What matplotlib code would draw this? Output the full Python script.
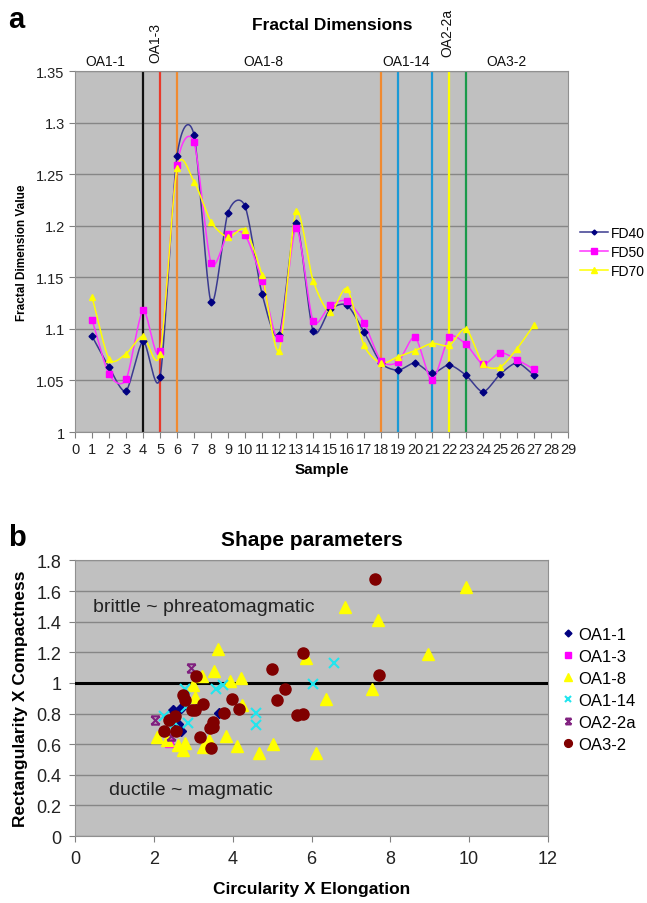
import numpy as np
import matplotlib.pyplot as plt
from matplotlib.path import Path
from matplotlib.lines import Line2D

plt.rcParams['font.family'] = ['Liberation Sans', 'DejaVu Sans']

# ==== panel a data ====
samples = list(range(1, 28))
fd40 = [1.093, 1.063, 1.040, 1.088, 1.053, 1.268, 1.288, 1.126, 1.213, 1.219,
        1.134, 1.094, 1.203, 1.098, 1.119, 1.123, 1.097, 1.067, 1.060, 1.067,
        1.057, 1.065, 1.055, 1.039, 1.056, 1.067, 1.055]
fd50 = [1.109, 1.056, 1.051, 1.118, 1.079, 1.259, 1.281, 1.164, 1.192, 1.191,
        1.147, 1.091, 1.198, 1.108, 1.123, 1.127, 1.106, 1.069, 1.068, 1.092,
        1.050, 1.092, 1.085, 1.066, 1.077, 1.070, 1.061]
fd70 = [1.131, 1.071, 1.076, 1.093, 1.076, 1.256, 1.243, 1.204, 1.189, 1.196,
        1.152, 1.079, 1.214, 1.147, 1.116, 1.139, 1.084, 1.067, 1.073, 1.079,
        1.086, 1.084, 1.100, 1.066, 1.063, 1.081, 1.104]

split_pos = [4, 5, 6, 18, 19, 21, 22, 23]
split_colors = ['#111111', '#e8392a', '#f08a30', '#f08a30', '#1a9ad6', '#1a9ad6', '#ffff00', '#1a9a4a']

group_names = ['OA1-1', 'OA1-3', 'OA1-8', 'OA1-14', 'OA2-2a', 'OA3-2']

# ==== panel b data ====
oa1_1_x = [2.49, 2.70, 3.08, 3.66, 2.62, 2.70]
oa1_1_y = [0.823, 0.834, 0.827, 0.806, 0.732, 0.688]
oa1_3_x = [2.38]
oa1_3_y = [0.605]
oa1_8_x = [6.84, 7.68, 9.93, 8.96, 3.63, 3.52, 3.22, 4.22, 3.93, 5.86, 7.54, 6.37, 2.99, 3.04,
           4.23, 2.07, 2.33, 2.60, 2.74, 2.80, 3.25, 3.41, 3.82, 4.11, 4.67, 5.02, 6.12]
oa1_8_y = [1.495, 1.41, 1.628, 1.186, 1.22, 1.078, 1.042, 1.034, 1.012, 1.162, 0.96, 0.898, 0.984, 0.91,
           0.854, 0.648, 0.625, 0.594, 0.564, 0.608, 0.58, 0.626, 0.653, 0.588, 0.545, 0.599, 0.545]
oa1_14_x = [6.58, 6.03, 4.60, 4.60, 3.58, 3.76, 2.78, 2.87, 2.26, 2.53, 2.82]
oa1_14_y = [1.132, 0.995, 0.806, 0.725, 0.962, 0.985, 0.958, 0.74, 0.785, 0.74, 0.845]
oa2_2a_x = [2.93, 2.02, 2.43]
oa2_2a_y = [1.095, 0.76, 0.655]
oa3_2_x = [7.62, 5.78, 7.70, 5.00, 3.07, 5.33, 5.13, 2.74, 2.78, 3.24, 2.96, 3.04, 3.99,
           4.16, 3.77, 5.64, 5.78, 2.39, 2.53, 3.49, 3.50, 3.42, 2.26, 2.55, 3.16, 3.46]
oa3_2_y = [1.676, 1.195, 1.051, 1.093, 1.045, 0.963, 0.89, 0.918, 0.886, 0.863, 0.821, 0.821, 0.897,
           0.827, 0.806, 0.79, 0.8, 0.757, 0.784, 0.746, 0.713, 0.708, 0.683, 0.683, 0.649, 0.577]


def smooth(x, y, n=20, k=0.8):
    # cardinal spline through the points, close to Excel's "smoothed line"
    x = np.asarray(x, float)
    y = np.asarray(y, float)
    t = np.linspace(0, 1, n, endpoint=False)
    h00 = 2 * t ** 3 - 3 * t ** 2 + 1
    h10 = t ** 3 - 2 * t ** 2 + t
    h01 = -2 * t ** 3 + 3 * t ** 2
    h11 = t ** 3 - t ** 2
    def tang(a):
        m = np.empty_like(a)
        m[1:-1] = (a[2:] - a[:-2]) / 2
        m[0] = a[1] - a[0]
        m[-1] = a[-1] - a[-2]
        return m * k
    mx, my = tang(x), tang(y)
    xs, ys = [], []
    for i in range(len(x) - 1):
        xs.extend(h00 * x[i] + h10 * mx[i] + h01 * x[i + 1] + h11 * mx[i + 1])
        ys.extend(h00 * y[i] + h10 * my[i] + h01 * y[i + 1] + h11 * my[i + 1])
    xs.append(x[-1])
    ys.append(y[-1])
    return xs, ys


BG = '#c0c0c0'
GRID = '#868686'

fig = plt.figure(figsize=(6.47, 9.04), dpi=100)

# ==== panel a ====
ax = fig.add_axes([0.116, 0.521, 0.762, 0.399])
ax.set_facecolor(BG)
for xv, c in zip(split_pos, split_colors):
    ax.axvline(xv, color=c, lw=1.6, zorder=2)

series = [(fd40, 'FD40', '#000080', '#3a3a90', 'D', 3.5),
          (fd50, 'FD50', '#ff00ff', '#ff33ff', 's', 5),
          (fd70, 'FD70', '#ffff00', '#ffff00', '^', 5)]
handles = []
for vals, name, mc, lc, mk, ms in series:
    sx, sy = smooth(samples, vals)
    ax.plot(sx, sy, color=lc, lw=1.1, zorder=3)
    ax.plot(samples, vals, ls='none', marker=mk, ms=ms, color=mc, zorder=4)
    handles.append(Line2D([], [], color=lc, lw=1.1, marker=mk, ms=ms - 1, markerfacecolor=mc, markeredgecolor=mc))
ax.set_xlim(0, 29)
ax.set_ylim(1, 1.35)
ax.set_xticks(range(0, 30))
ax.set_yticks(np.arange(1, 1.351, 0.05))
ax.set_yticklabels(['1', '1.05', '1.1', '1.15', '1.2', '1.25', '1.3', '1.35'])
ax.tick_params(labelsize=10.5, colors='#222222', length=4, color='#808080')
ax.yaxis.grid(True, color=GRID, lw=1)
ax.set_axisbelow(True)
for s in ax.spines.values():
    s.set_color('#909090')
ax.set_xlabel('Sample', fontsize=11, fontweight='bold', labelpad=4)
ax.set_ylabel('Fractal Dimension Value', fontsize=8.5, fontweight='bold', labelpad=6)
fig.text(0.513, 0.972, 'Fractal Dimensions', fontsize=12.5, fontweight='bold', ha='center', va='center')
ax.legend(handles=handles, labels=['FD40', 'FD50', 'FD70'], loc='upper left',
          bbox_to_anchor=(1.01, 0.59), frameon=False, fontsize=10, handlelength=2.0,
          handletextpad=0.2, labelspacing=0.35, borderpad=0)

trans = ax.get_xaxis_transform()
label_x = [1.76, 4.7, 11.06, 19.5, 21.9, 25.4]
label_y = [1.028, 1.08, 1.028, 1.028, 1.11, 1.028]
label_rot = [0, 90, 0, 0, 90, 0]
for name, lx, ly, rot in zip(group_names, label_x, label_y, label_rot):
    ax.text(lx, ly, name, transform=trans, rotation=rot, ha='center', va='center', fontsize=10,
            color='#111111', clip_on=False)
fig.text(0.012, 0.978, 'a', fontsize=21, fontweight='bold', va='center')

# ==== panel b ====
bx = fig.add_axes([0.116, 0.074, 0.731, 0.305])
bx.set_facecolor(BG)

star = Path([(-1, -1), (1, 1), (-1, 1), (1, -1), (-1, 1), (1, 1), (-1, -1), (1, -1)],
            [Path.MOVETO, Path.LINETO, Path.MOVETO, Path.LINETO,
             Path.MOVETO, Path.LINETO, Path.MOVETO, Path.LINETO])

groups = [(oa1_1_x, oa1_1_y, '#000080', 'D', 5),
          (oa1_3_x, oa1_3_y, '#ff00ff', 's', 6),
          (oa1_8_x, oa1_8_y, '#ffff00', '^', 8),
          (oa1_14_x, oa1_14_y, '#22e5ee', 'x', 6.5),
          (oa2_2a_x, oa2_2a_y, '#80207f', star, 6),
          (oa3_2_x, oa3_2_y, '#800000', 'o', 8)]
hb = []
for (gx, gy, c, mk, ms), name in zip(groups, group_names):
    lw = 1.5 if mk is star or mk == 'x' else 1
    bx.plot(gx, gy, ls='none', marker=mk, ms=ms, color=c, mew=lw, zorder=4)
    hb.append(Line2D([], [], ls='none', marker=mk, ms=ms * 0.7, color=c, mew=lw))

bx.axhline(1, color='#000000', lw=2.2, zorder=3)
bx.set_xlim(0, 12)
bx.set_ylim(0, 1.8)
bx.set_xticks(range(0, 13, 2))
bx.set_yticks(np.arange(0, 1.81, 0.2))
bx.set_yticklabels(['0', '0.2', '0.4', '0.6', '0.8', '1', '1.2', '1.4', '1.6', '1.8'])
bx.tick_params(labelsize=13, colors='#222222', length=4, color='#808080', pad=6)
bx.yaxis.grid(True, color=GRID, lw=1)
bx.set_axisbelow(True)
for s in bx.spines.values():
    s.set_color('#909090')
bx.set_xlabel('Circularity X Elongation', fontsize=12.5, fontweight='bold', labelpad=10)
bx.set_ylabel('Rectangularity X Compactness', fontsize=12.5, fontweight='bold', labelpad=6)
bx.set_title('Shape parameters', fontsize=15, fontweight='bold', pad=11)
bx.text(0.45, 1.5, 'brittle ~ phreatomagmatic', fontsize=14, color='#222222', va='center')
bx.text(0.86, 0.305, 'ductile ~ magmatic', fontsize=14, color='#222222', va='center')
bx.legend(handles=hb, labels=group_names, loc='upper left', bbox_to_anchor=(1.015, 0.79),
          frameon=False, fontsize=12, handlelength=0.6, handletextpad=0.3,
          labelspacing=0.42, borderpad=0)
fig.text(0.012, 0.405, 'b', fontsize=21, fontweight='bold', va='center')

fig.savefig('out.png', dpi=100)
